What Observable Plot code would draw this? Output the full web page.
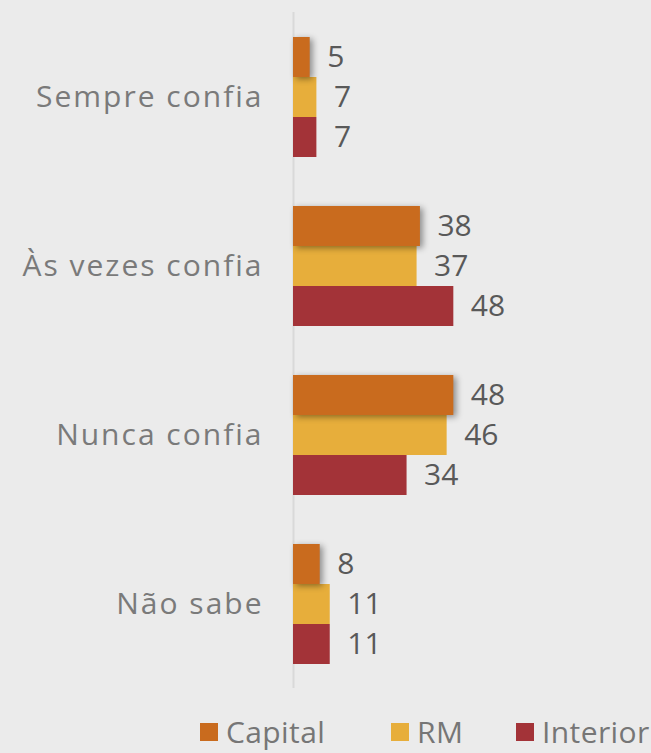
<!DOCTYPE html>
<html>
<head>
<meta charset="utf-8">
<script src="https://cdn.jsdelivr.net/npm/d3@7"></script>
<script src="https://cdn.jsdelivr.net/npm/@observablehq/plot@0.6"></script>
<style>
  html, body { margin: 0; padding: 0; background: #ebebeb; }
  body { width: 651px; height: 753px; overflow: hidden; font-family: "Open Sans", sans-serif; }
  #legend { position: relative; height: 53px; color: #767676; font-size: 30px; line-height: 1.2; letter-spacing: 0.4px; }
  #legend .item { position: absolute; top: 9px; height: 46px; display: flex; align-items: center; gap: 8px; white-space: nowrap; }
  #legend .sw { width: 18px; height: 18px; display: inline-block; }
  #chart [aria-label^="fy-axis"] text { letter-spacing: 2px; }
</style>
</head>
<body>
<div id="chart"></div>
<div id="legend"></div>
<script>
const categories = ["Sempre confia", "Às vezes confia", "Nunca confia", "Não sabe"];
const series = ["Capital", "RM", "Interior"];
const capital = [5, 38, 48, 8];
const rm = [7, 37, 46, 11];
const interior = [7, 48, 34, 11];
const colors = ["#c96b1e", "#e7ae3b", "#a33338"];
const legendLeft = [200, 391, 516];

const valuesBySeries = [capital, rm, interior];
const data = [];
categories.forEach((c, i) => {
  series.forEach((s, j) => {
    data.push({category: c, series: s, value: valuesBySeries[j][i]});
  });
});

const chart = Plot.plot({
  width: 651,
  height: 700,
  marginLeft: 293,
  marginRight: 24,
  marginTop: 11,
  marginBottom: 11,
  style: {background: "#ebebeb", fontFamily: "'Open Sans', sans-serif", fontSize: "30px", color: "#7a7a7a"},
  x: {domain: [0, 100], axis: null},
  y: {domain: series, axis: null, paddingInner: 0, paddingOuter: 0.58},
  fy: {domain: categories, paddingInner: 0, paddingOuter: 0, label: null, tickSize: 0, tickPadding: 30},
  color: {domain: series, range: colors},
  marks: [
    Plot.ruleX([0], {stroke: "#d9d9d9", strokeWidth: 2}),
    Plot.barX(data.filter(d => d.series !== "Capital"), {x: "value", y: "series", fy: "category", fill: "series"}),
    Plot.barX(data.filter(d => d.series === "Capital"), {x: "value", y: "series", fy: "category", fill: "series", imageFilter: "drop-shadow(3px 2px 3px rgba(0,0,0,0.4))"}),
    Plot.text(data, {x: "value", y: "series", fy: "category", text: d => String(d.value), dx: 17, textAnchor: "start", fill: "#595959", fontSize: 30})
  ]
});
document.getElementById("chart").appendChild(chart);

const legend = document.getElementById("legend");
series.forEach((s, j) => {
  const item = document.createElement("div");
  item.className = "item";
  item.style.left = legendLeft[j] + "px";
  const sw = document.createElement("span");
  sw.className = "sw";
  sw.style.background = colors[j];
  const label = document.createElement("span");
  label.textContent = s;
  item.appendChild(sw);
  item.appendChild(label);
  legend.appendChild(item);
});
</script>
</body>
</html>
